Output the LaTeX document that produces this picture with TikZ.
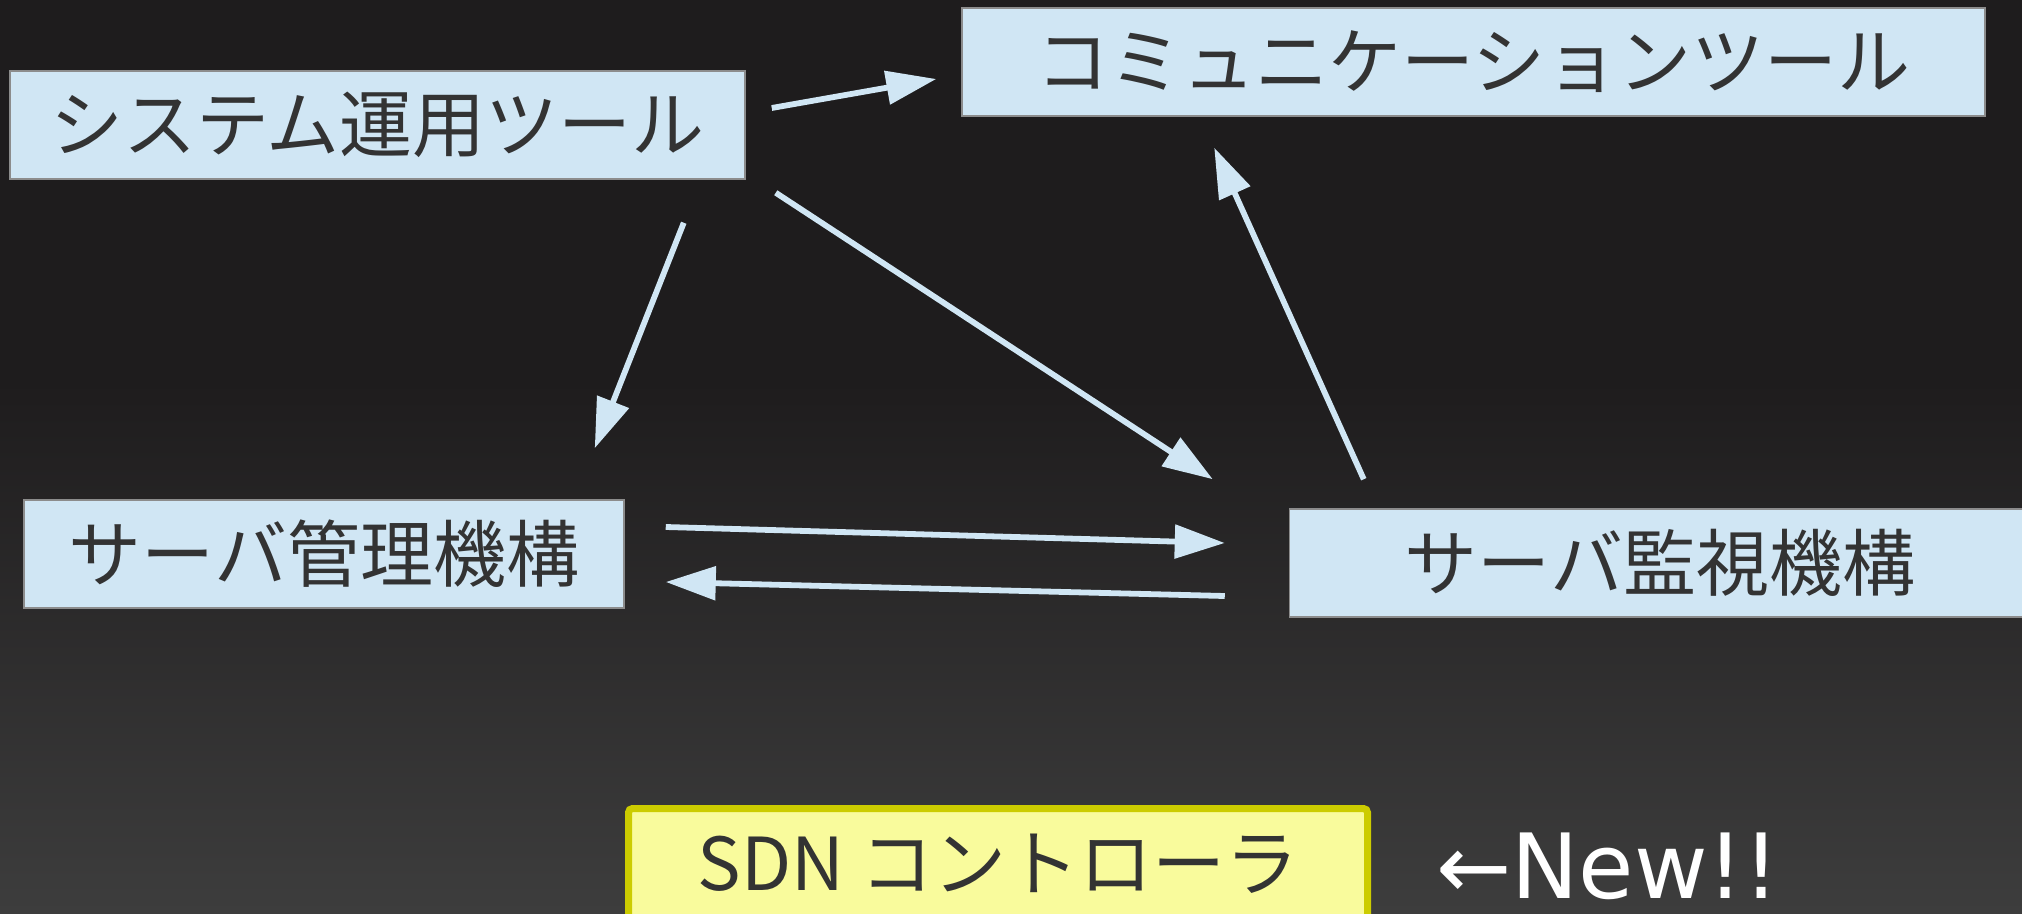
\documentclass[tikz,border=0pt]{standalone}
\usepackage{fontspec}
\usepackage{xcolor}
\newfontfamily\jpfont{Noto Sans CJK JP}
\newfontfamily\dvfont{DejaVu Sans}
\usetikzlibrary{calc, arrows.meta, positioning}
\definecolor{boxblue}{HTML}{D0E6F4}
\definecolor{boxline}{HTML}{8C8C8C}
\definecolor{inkgray}{HTML}{333333}
\definecolor{padyellow}{HTML}{F9FB9C}
\definecolor{padline}{HTML}{CCCC00}
\definecolor{bgtop}{HTML}{1E1C1D}
\definecolor{bgbottom}{HTML}{3D3D3D}
\tikzset{
    toolnode/.style = {draw=boxline, fill=boxblue, rectangle, line width=0.75pt, inner sep=0em,
      node distance=0em, minimum height=54pt, text=inkgray, font=\jpfont\fontsize{36.5}{40}\selectfont},
    padnode/.style = {draw=padline, fill=padyellow, rectangle, rounded corners=2pt, line width=3.5pt,
      inner sep=0em, node distance=0em, text=inkgray, font=\jpfont\fontsize{36.5}{40}\selectfont},
    newtext/.style = {draw=none, fill=none, inner sep=0em, node distance=0em, text=white,
      text depth=0pt, font=\dvfont\fontsize{45}{50}\selectfont},
    flow/.style = {draw=boxblue, line width=2.9pt, -{Triangle[length=25pt, width=16.5pt]}}
}

\begin{document}
\begin{tikzpicture}[x=0.5pt, y=-0.5pt]
    \clip (0,0) rectangle (2022,914);
    \fill[bgtop] (0,0) rectangle (2022,914);
    \shade[top color=bgtop, bottom color=bgbottom] (0,380) rectangle (2022,914);

    \node [toolnode, name=sys, minimum width=367.5pt] at (377.5,125) {システム運用ツール};
    \node [toolnode, name=comm, right of=sys, xshift=548pt, yshift=31.5pt, minimum width=511.5pt] {コミュニケーションツール};
    \node [toolnode, name=mgmt, below of=sys, xshift=-26.75pt, yshift=-214.5pt, minimum width=300pt] {サーバ管理機構};
    \node [toolnode, name=mon, right of=mgmt, xshift=668pt, yshift=-4.5pt, minimum width=370.5pt] {サーバ監視機構};

    \node [padnode, name=sdn, right of=mgmt, xshift=337pt, yshift=-155pt, minimum width=369.5pt, minimum height=55.5pt] {SDN コントローラ};
    \node [newtext, name=new, right of=sdn, anchor=base, xshift=305pt, yshift=-17pt] {←New!!};

    \draw[flow] ($(sys.east)+(26,-17)$) -- ($(comm.west)+(-25,17)$);
    \draw[flow] ($(sys.south east)+(-62,43)$) -- ($(mgmt.north east)+(-30,-51)$);
    \draw[flow] ($(sys.south east)+(30,13)$) -- ($(mon.north west)+(-76,-29)$);
    \draw[flow] ($(mgmt.east)+(41,-27)$) -- ($(mon.west)+(-64,-20)$);
    \draw[flow] ($(mon.west)+(-64,33)$) -- ($(mgmt.east)+(41,28)$);
    \draw[flow] ($(mon.north west)+(75,-29)$) -- ($(comm.south west)+(253,31)$);
\end{tikzpicture}
\end{document}
